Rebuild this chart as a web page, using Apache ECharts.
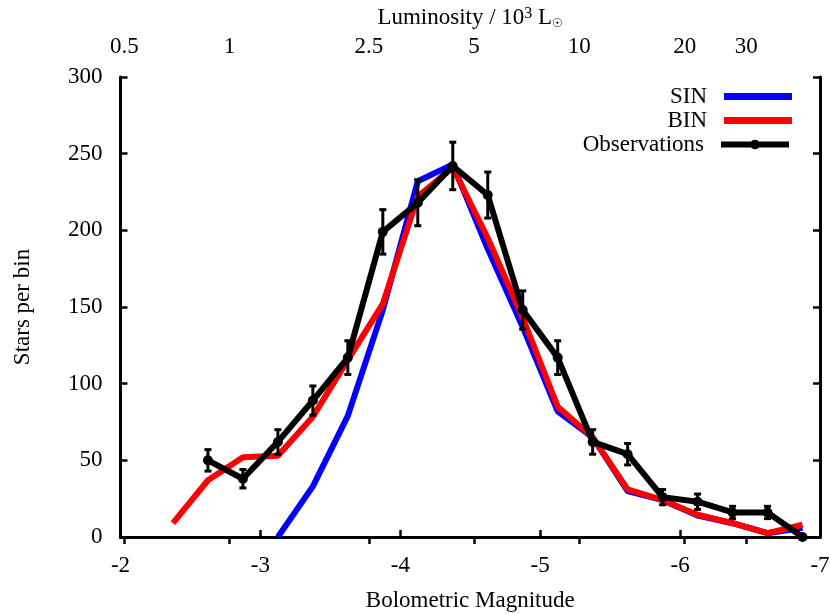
<!DOCTYPE html>
<html><head><meta charset="utf-8">
<script src="https://cdn.jsdelivr.net/npm/echarts@6/dist/echarts.min.js"></script>
<style>html,body{margin:0;padding:0;background:#fff}#c{width:830px;height:614px}</style>
</head><body><div id="c"></div>
<script>
// Bolometric magnitude bin centres
const sinMag = [-3.125,-3.375,-3.625,-3.875,-4.125,-4.375,-4.625,-4.875,-5.125,-5.375,-5.625,-5.875,-6.125,-6.375,-6.625,-6.875];
const sinVals = [0,33,79,148,232,243,188,137,82,65,30,24,14,9,2.5,6];
const binMag = [-2.375,-2.625,-2.875,-3.125,-3.375,-3.625,-3.875,-4.125,-4.375,-4.625,-4.875,-5.125,-5.375,-5.625,-5.875,-6.125,-6.375,-6.625,-6.875];
const binVals = [9,37,52,53,78.5,115.5,152,222,241,195,143,85,65,31,24,14.5,9,2.5,8];
const obsMag = [-2.625,-2.875,-3.125,-3.375,-3.625,-3.875,-4.125,-4.375,-4.625,-4.875,-5.125,-5.375,-5.625,-5.875,-6.125,-6.375,-6.625,-6.875];
const obsVals = [50,38,62,89,117,199,218,242,223,148,117,62,54,26,23,16,16,0];
const obsErr = [7,6,8,9.5,11,14.5,15,15.5,15,12.5,11,8,7,5,5,4,4,0];
// top axis tick labels (luminosity in 10^3 Lsun)
const lumTicks = [0.5,1,2.5,5,10,20,30];
const M_SUN = 4.72;
const lumMag = lumTicks.map(L => M_SUN - 2.5 * Math.log10(L * 1000));

const FONT = 'Liberation Serif';
const FS = 23;
const chart = echarts.init(document.getElementById('c'));
const axisLineStyle = {lineStyle:{color:'#000', width:3}};
const tickStyle = {inside:true, length:7, lineStyle:{color:'#000', width:2.5}};

const legendBase = {
  right: 38, orient: 'horizontal', align: 'right', padding: 0,
  itemWidth: 68, itemHeight: 7,
  textStyle: {fontFamily: FONT, fontSize: FS, color: '#000', padding: [0, 12, 0, 0]},
  selectedMode: false
};

chart.setOption({
  animation: false,
  backgroundColor: '#fff',
  grid: {left: 120.5, right: 10, top: 77, bottom: 77, containLabel: false, outerBoundsMode: 'none'},
  legend: [
    Object.assign({}, legendBase, {top: 85, data: [{name: 'SIN', icon: 'rect'}]}),
    Object.assign({}, legendBase, {top: 109, data: [{name: 'BIN', icon: 'rect'}]}),
    Object.assign({}, legendBase, {top: 133, itemHeight: 12, lineStyle: {width: 6}, data: ['Observations']})
  ],
  xAxis: [{
    type: 'value', min: -7, max: -2, interval: 1, inverse: true, position: 'bottom',
    name: 'Bolometric Magnitude', nameLocation: 'middle', nameGap: 52,
    nameTextStyle: {fontFamily: FONT, fontSize: FS, color: '#000'},
    axisLine: axisLineStyle, axisTick: tickStyle, splitLine: {show: false},
    axisLabel: {fontFamily: FONT, fontSize: FS, color: '#000', margin: 17}
  }, {
    type: 'value', min: -7, max: -2, inverse: true, position: 'top',
    name: 'Luminosity / 10{sup|3} L{sub|☉}', nameLocation: 'middle', nameGap: 47,
    nameTextStyle: {fontFamily: FONT, fontSize: FS, color: '#000',
      rich: {sup: {fontFamily: FONT, fontSize: 16, verticalAlign: 'top', padding:[0,0,8,0]},
             sub: {fontFamily: FONT, fontSize: 12, verticalAlign: 'bottom', padding:[10,0,0,0]}}},
    axisLine: axisLineStyle,
    axisTick: Object.assign({customValues: lumMag}, tickStyle),
    splitLine: {show: false},
    axisLabel: {customValues: lumMag, fontFamily: FONT, fontSize: FS, color: '#000', margin: 19,
      formatter: v => { const i = lumMag.findIndex(m => Math.abs(m - v) < 1e-6); return i >= 0 ? String(lumTicks[i]) : ''; }}
  }],
  yAxis: [{
    type: 'value', min: 0, max: 300, interval: 50, position: 'left',
    name: 'Stars per bin', nameLocation: 'middle', nameGap: 86,
    nameTextStyle: {fontFamily: FONT, fontSize: FS, color: '#000'},
    axisLine: Object.assign({show: true}, axisLineStyle), axisTick: tickStyle, splitLine: {show: false},
    axisLabel: {fontFamily: FONT, fontSize: FS, color: '#000', margin: 18}
  }, {
    type: 'value', min: 0, max: 300, interval: 50, position: 'right',
    axisLine: Object.assign({show: true}, axisLineStyle), axisTick: tickStyle, splitLine: {show: false},
    axisLabel: {show: false}
  }],
  series: [{
    name: 'SIN', type: 'line', xAxisIndex: 0, yAxisIndex: 0,
    data: sinMag.map((m, i) => [m, sinVals[i]]),
    showSymbol: false, symbol: 'none', lineStyle: {color: '#0000ff', width: 6}, itemStyle: {color: '#0000ff'}, z: 2
  }, {
    name: 'BIN', type: 'line', xAxisIndex: 0, yAxisIndex: 0,
    data: binMag.map((m, i) => [m, binVals[i]]),
    showSymbol: false, symbol: 'none', lineStyle: {color: '#ff0000', width: 6}, itemStyle: {color: '#ff0000'}, z: 3
  }, {
    name: 'errbars', type: 'custom', xAxisIndex: 0, yAxisIndex: 0, z: 4,
    data: obsMag.map((m, i) => [m, obsVals[i] - obsErr[i], obsVals[i] + obsErr[i]]).filter((d, i) => obsErr[i] > 0),
    renderItem: (params, api) => {
      const lo = api.coord([api.value(0), api.value(1)]);
      const hi = api.coord([api.value(0), api.value(2)]);
      const w = 3.5;
      const st = {stroke: '#000', lineWidth: 3};
      return {type: 'group', children: [
        {type: 'line', shape: {x1: lo[0], y1: lo[1], x2: hi[0], y2: hi[1]}, style: st},
        {type: 'line', shape: {x1: lo[0]-w, y1: lo[1], x2: lo[0]+w, y2: lo[1]}, style: st},
        {type: 'line', shape: {x1: hi[0]-w, y1: hi[1], x2: hi[0]+w, y2: hi[1]}, style: st}
      ]};
    }
  }, {
    name: 'Observations', type: 'line', xAxisIndex: 0, yAxisIndex: 0,
    data: obsMag.map((m, i) => [m, obsVals[i]]),
    symbol: 'circle', symbolSize: 10, showSymbol: true,
    lineStyle: {color: '#000', width: 6}, itemStyle: {color: '#000'}, z: 5
  }]
});
</script>
</body></html>
